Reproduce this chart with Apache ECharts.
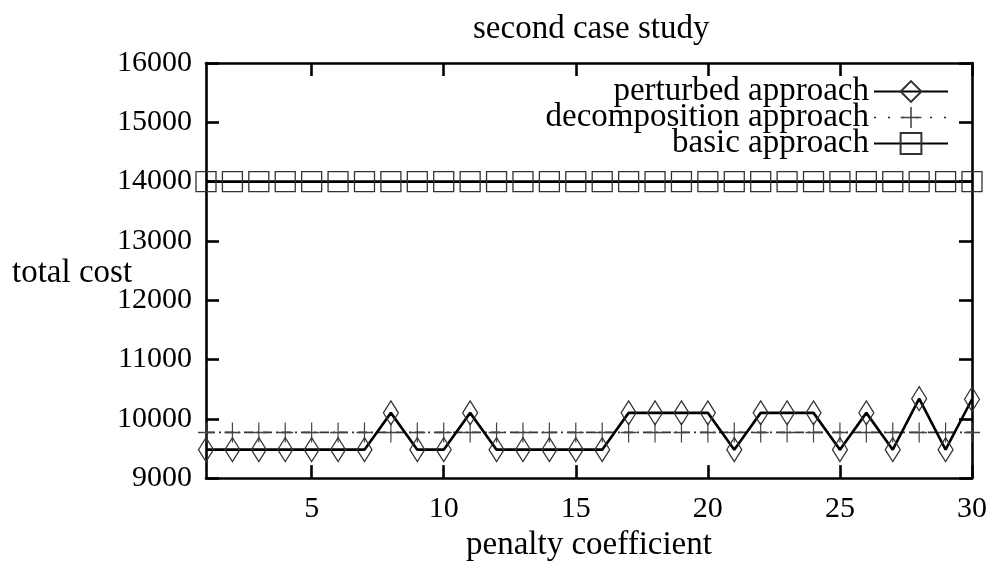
<!DOCTYPE html>
<html><head><meta charset="utf-8">
<script src="https://cdn.jsdelivr.net/npm/echarts@6/dist/echarts.min.js"></script>
<style>html,body{margin:0;padding:0;background:#fff}#c{width:994px;height:567px}</style>
</head><body><div id="c"></div>
<script>
// ---- data ----
const penalty = [1,2,3,4,5,6,7,8,9,10,11,12,13,14,15,16,17,18,19,20,21,22,23,24,25,26,27,28,29,30];
const perturbed = [9480,9480,9480,9480,9480,9480,9480,10100,9480,9480,10100,9480,9480,9480,9480,9480,10100,10100,10100,10100,9480,10100,10100,10100,9480,10100,9480,10340,9480,10330];
const decomposition = [9770,9770,9770,9770,9770,9770,9770,9770,9770,9770,9770,9770,9770,9770,9770,9770,9770,9770,9770,9770,9770,9770,9770,9770,9770,9770,9770,9770,9770,9770];
const basic = [14000,14000,14000,14000,14000,14000,14000,14000,14000,14000,14000,14000,14000,14000,14000,14000,14000,14000,14000,14000,14000,14000,14000,14000,14000,14000,14000,14000,14000,14000];
const xTickValues = [5,10,15,20,25,30];
const seriesNames = ['perturbed approach','decomposition approach','basic approach'];
const titleText = 'second case study';
const xName = 'penalty coefficient';
const yName = 'total cost';

const FONT = '"Liberation Serif", "Times New Roman", serif';
const pair = (ys) => penalty.map((x, i) => [x, ys[i]]);
const plusPath = 'path://M9.25,0h1.5v9.25h9.25v1.5h-9.25v9.25h-1.5v-9.25h-9.25v-1.5h9.25z';

const axisLineStyle = { color: '#000', width: 2.6 };
const tickStyle = { color: '#000', width: 2.6 };

const chart = echarts.init(document.getElementById('c'), null, { renderer: 'canvas' });
chart.setOption({
  animation: false,
  backgroundColor: '#fff',
  textStyle: { fontFamily: FONT },
  title: {
    text: titleText, left: 468, top: 8,
    textStyle: { fontFamily: FONT, fontWeight: 'normal', fontSize: 33, color: '#000' }
  },
  grid: { left: 206, right: 22, top: 63, bottom: 84, containLabel: false },
  legend: {
    orient: 'vertical', align: 'right', right: 40, top: 70,
    itemWidth: 74, itemHeight: 26, itemGap: -7,
    data: [
      { name: seriesNames[0] },
      { name: seriesNames[1], lineStyle: { type: [2, 12], width: 1.7, color: '#222' } },
      { name: seriesNames[2] }
    ],
    textStyle: { fontFamily: FONT, fontSize: 33, color: '#000' },
    selectedMode: false
  },
  xAxis: [{
    type: 'value', min: 1, max: 30, position: 'bottom',
    name: xName, nameLocation: 'middle', nameGap: 50,
    nameTextStyle: { fontFamily: FONT, fontSize: 33, color: '#000' },
    axisLine: { show: true, onZero: false, lineStyle: axisLineStyle },
    axisTick: { show: true, inside: true, length: 13, lineStyle: tickStyle, customValues: xTickValues },
    axisLabel: { show: true, margin: 16, fontFamily: FONT, fontSize: 30, color: '#000', customValues: xTickValues },
    splitLine: { show: false }
  }, {
    type: 'value', min: 1, max: 30, position: 'top',
    axisLine: { show: true, onZero: false, lineStyle: axisLineStyle },
    axisTick: { show: true, inside: true, length: 13, lineStyle: tickStyle, customValues: xTickValues },
    axisLabel: { show: false },
    splitLine: { show: false }
  }],
  yAxis: [{
    type: 'value', min: 9000, max: 16000, interval: 1000, position: 'left',
    axisLine: { show: true, onZero: false, lineStyle: axisLineStyle },
    axisTick: { show: true, inside: true, length: 13, lineStyle: tickStyle },
    axisLabel: { show: true, margin: 14, fontFamily: FONT, fontSize: 30, color: '#000', formatter: (v) => String(v) },
    splitLine: { show: false }
  }, {
    type: 'value', min: 9000, max: 16000, interval: 1000, position: 'right',
    axisLine: { show: true, onZero: false, lineStyle: axisLineStyle },
    axisTick: { show: true, inside: true, length: 13, lineStyle: tickStyle },
    axisLabel: { show: false },
    splitLine: { show: false }
  }],
  graphic: [{
    type: 'text', left: 12, top: 257,
    style: { text: yName, font: '33px ' + FONT, fill: '#000' }
  }],
  series: [{
    name: seriesNames[0], type: 'line', data: pair(perturbed),
    symbol: 'diamond', symbolSize: [15, 24], showAllSymbol: true, clip: false,
    lineStyle: { color: '#000', width: 2.6 },
    itemStyle: { color: 'rgba(0,0,0,0)', borderColor: '#333', borderWidth: 1.3 },
    z: 3
  }, {
    name: seriesNames[1], type: 'line', data: pair(decomposition),
    symbol: plusPath, symbolSize: [16, 20], showAllSymbol: true, clip: false,
    lineStyle: { color: '#333', width: 1.7, type: [9, 4, 2, 4] },
    itemStyle: { color: '#444', borderWidth: 0 },
    z: 2
  }, {
    name: seriesNames[2], type: 'line', data: pair(basic),
    symbol: 'rect', symbolSize: 20, showAllSymbol: true, clip: false,
    lineStyle: { color: '#000', width: 2.6 },
    itemStyle: { color: 'rgba(0,0,0,0)', borderColor: '#333', borderWidth: 1.3 },
    z: 2
  }]
});
</script>
</body></html>
